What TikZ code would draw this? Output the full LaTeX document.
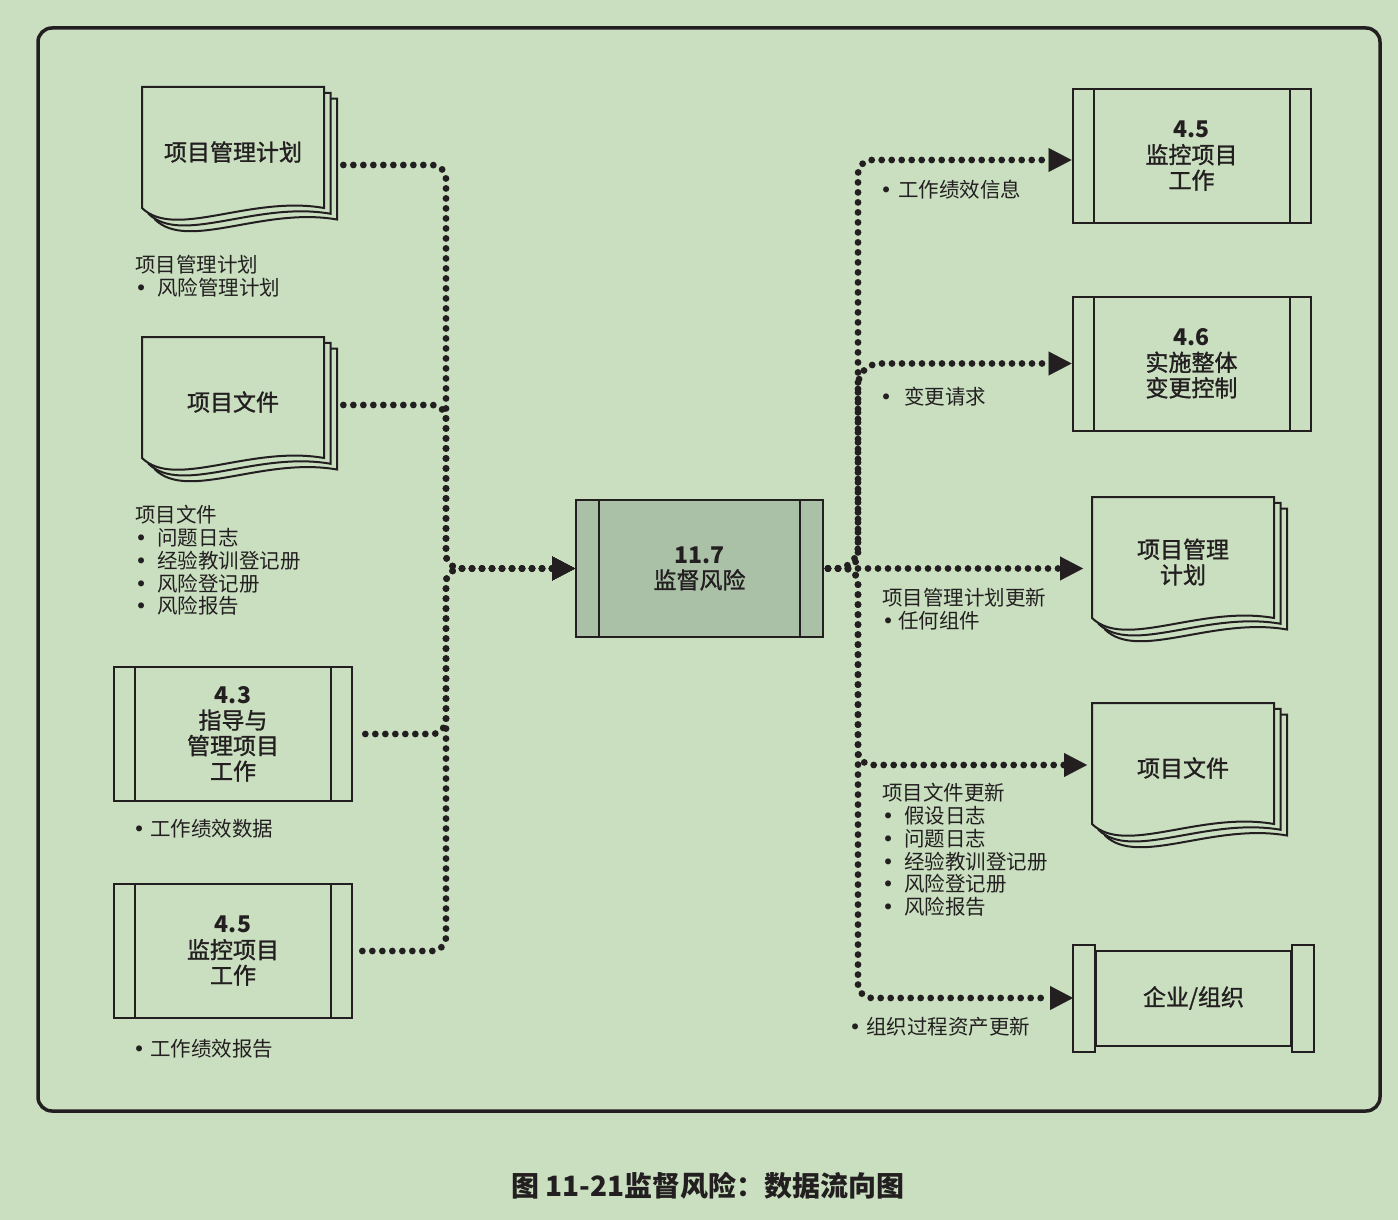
\documentclass[tikz,border=0pt]{standalone}
\usepackage{fontspec}
\setmainfont{Noto Sans CJK SC}
\newfontfamily\medfont{Noto Sans CJK SC}[RawFeature={embolden=1.2}]
\newfontfamily\dejavu{DejaVu Sans}
\usetikzlibrary{arrows.meta}
\definecolor{bgc}{RGB}{201,223,192}
\definecolor{cfill}{RGB}{171,193,167}
\definecolor{ink}{RGB}{35,31,32}
\newcommand{\bu}[1]{\makebox[#1][l]{\dejavu •}}
\newcommand{\bnum}[1]{{\rmfamily\bfseries #1}}
\tikzset{
  dotline/.style={draw=ink, line width=6.8pt, dash pattern=on 0pt off 10pt, line cap=round, rounded corners=14pt},
  arr/.style={-{Triangle[length=23pt,width=24pt,line width=0.1pt]}},
  rarr/.style={{Triangle[length=23pt,width=24pt,line width=0.1pt]}-},
  boxline/.style={draw=ink, line width=2pt},
  boxtext/.style={text=ink, align=center, font=\medfont\fontsize{23pt}{25.5pt}\selectfont},
  procbox/.style={boxline, boxtext, minimum width=238pt, minimum height=134pt,
    path picture={
      \draw[ink, line width=2pt] ([xshift=21pt]path picture bounding box.north west) -- ([xshift=21pt]path picture bounding box.south west);
      \draw[ink, line width=2pt] ([xshift=-21pt]path picture bounding box.north east) -- ([xshift=-21pt]path picture bounding box.south east);}},
  centerbox/.style={boxline, boxtext, fill=cfill, minimum width=247pt, minimum height=137pt,
    path picture={
      \draw[ink, line width=2pt] ([xshift=23pt]path picture bounding box.north west) -- ([xshift=23pt]path picture bounding box.south west);
      \draw[ink, line width=2pt] ([xshift=-23pt]path picture bounding box.north east) -- ([xshift=-23pt]path picture bounding box.south east);}},
  docnode/.style={boxtext, minimum width=182pt, minimum height=121pt, inner sep=0pt, outer sep=0pt},
  docpage/.style={boxline, fill=bgc, line join=miter},
  lbl/.style={anchor=west, align=left, inner sep=0pt, text=ink, font=\fontsize{20.5pt}{22.75pt}\selectfont}
}
\newcommand{\docstack}[4]{%
  \begin{scope}[shift={(#2,#3)}]
    \foreach \o in {13,6.5,0}{%
      \begin{scope}[shift={(\o,0.885*\o)}]
        \filldraw[docpage] (0,0) -- (182,0) -- (182,121) .. controls (108,108) and (33,153) .. (0,121) -- cycle;
      \end{scope}}
    \node[docnode] (#1) at (91,65) {#4};
  \end{scope}}
\begin{document}
\begin{tikzpicture}[x=1pt,y=-1pt]
\fill[bgc] (0,0) rectangle (1398,1220);
\useasboundingbox (0,0) rectangle (1398,1220);
\draw[ink, line width=3.5pt, rounded corners=14pt] (38,28) rectangle (1380,1111);

% left sources
\docstack{d1}{142}{87}{项目管理计划}
\docstack{d2}{142}{337}{项目文件}
\node[procbox] (b43) at (233,734) {\bnum{4.3}\\指导与\\管理项目\\工作};
\node[procbox] (b45l) at (233,951) {\bnum{4.5}\\监控项目\\工作};

% center
\node[centerbox] (c) at (699.5,568.5) {\bnum{11.7}\\监督风险};

% right targets
\node[procbox] (b45r) at (1191.5,156) {\bnum{4.5}\\监控项目\\工作};
\node[procbox] (b46) at (1191.5,363.5) {\bnum{4.6}\\实施整体\\变更控制};
\docstack{dpm}{1092}{497}{项目管理\\计划}
\docstack{dfi}{1092}{703}{项目文件}
\node[boxline, boxtext, minimum width=195pt, minimum height=95pt] (org) at (1193.5,998) {企业/组织};
\draw[boxline] ([yshift=5pt]org.north west) rectangle ([xshift=-22pt,yshift=-5pt]org.south west);
\draw[boxline] ([yshift=5pt]org.north east) rectangle ([xshift=22pt,yshift=-5pt]org.south east);

% connector coordinates
\coordinate (lj) at ([xshift=-129pt]c.west);
\coordinate (rj) at ([xshift=34pt]c.east);
\coordinate (d1o) at ([xshift=16pt,yshift=-13pt]d1.east);
\coordinate (d2o) at ([xshift=16pt,yshift=-3pt]d2.east);
\coordinate (b43o) at ([xshift=3pt]b43.east);
\coordinate (b45o) at ([xshift=3pt]b45l.east);
\coordinate (t45) at ([yshift=-4pt]b45r.west);
\coordinate (t46) at (b46.west);
\coordinate (tpm) at ([xshift=-9pt]dpm.west);
\coordinate (tfi) at ([xshift=-5pt,yshift=3pt]dfi.west);
\coordinate (torg) at ([xshift=-22pt]org.west);

% left connectors
\draw[dotline, rarr] (c.west) -- (lj) -- (lj |- d1o) -- (d1o);
\draw[dotline, rarr] (c.west) -- (lj) -- (lj |- d2o) -- (d2o);
\draw[dotline, rarr] (c.west) -- (lj) -- (lj |- b43o) -- (b43o);
\draw[dotline, rarr] (c.west) -- (lj) -- (lj |- b45o) -- (b45o);

% right connectors
\draw[dotline, arr, dash phase=6pt] (c.east) -- (rj) -- (rj |- t45) -- (t45);
\draw[dotline, arr, dash phase=6pt, rounded corners=22pt] (c.east) -- (rj) -- (rj |- t46) -- (t46);
\draw[dotline, arr, dash phase=6pt] (c.east) -- (c.east -| tpm);
\draw[dotline, arr, dash phase=6pt] (c.east) -- (rj) -- (rj |- tfi) -- (tfi);
\draw[dotline, arr, dash phase=6pt] (c.east) -- (rj) -- (rj |- torg) -- (torg);

% labels
\node[lbl] (l1) at (135,276.5) {项目管理计划\\\bu{22pt}风险管理计划};
\node[lbl] (l2) at (135,560.5) {项目文件\\\bu{22pt}问题日志\\\bu{22pt}经验教训登记册\\\bu{22pt}风险登记册\\\bu{22pt}风险报告};
\node[lbl] (l3) at (133,829) {\bu{17pt}工作绩效数据};
\node[lbl] (l4) at (133,1049) {\bu{17pt}工作绩效报告};
\node[lbl] (r1) at (880,190) {\bu{18pt}工作绩效信息};
\node[lbl] (r2) at (880,397) {\bu{24pt}变更请求};
\node[lbl] (r3) at (882,609.5) {项目管理计划更新\\\bu{16pt}任何组件};
\node[lbl] (r4) at (882,850) {项目文件更新\\\bu{22pt}假设日志\\\bu{22pt}问题日志\\\bu{22pt}经验教训登记册\\\bu{22pt}风险登记册\\\bu{22pt}风险报告};
\node[lbl] (r5) at (849,1027) {\bu{17pt}组织过程资产更新};

% caption
\node[text=ink, font=\fontsize{28pt}{30pt}\selectfont\bfseries] (cap) at (708,1186) {图 11-21监督风险：数据流向图};
\end{tikzpicture}
\end{document}
